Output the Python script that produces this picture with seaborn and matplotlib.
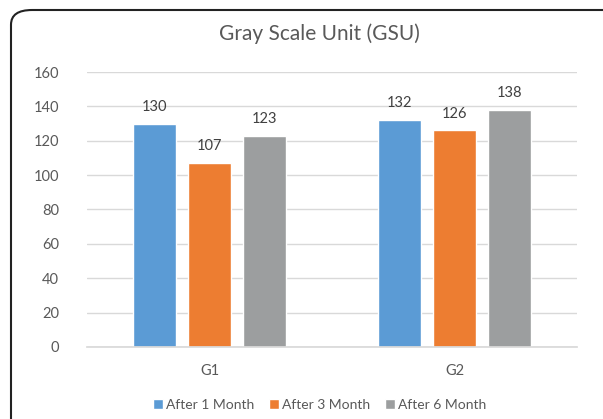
import matplotlib
matplotlib.use("Agg")
import matplotlib.pyplot as plt
from matplotlib.patches import FancyBboxPatch
import pandas as pd
import seaborn as sns

sns.set_theme(style="white")
plt.rcParams['font.family'] = ['Lato', 'DejaVu Sans']

groups = ["G1", "G2"]
series = ["After 1 Month", "After 3 Month", "After 6 Month"]
after_1 = [130, 132]
after_3 = [107, 126]
after_6 = [123, 138]
yticks = [0, 20, 40, 60, 80, 100, 120, 140, 160]
colors = ["#5B9BD5", "#ED7D31", "#9C9E9F"]

df = pd.DataFrame({
    "Group": groups * 3,
    "Period": [s for s in series for _ in groups],
    "GSU": after_1 + after_3 + after_6,
})

fig = plt.figure(figsize=(6.03, 4.19), dpi=100)
ax = fig.add_axes([0.1443, 0.172, 0.8127, 0.656])

sns.barplot(data=df, x="Group", y="GSU", hue="Period", palette=colors,
            width=0.67, gap=0.22, ax=ax, saturation=1, legend=True)

for c in ax.containers:
    ax.bar_label(c, padding=7, fontsize=10.5, color="#404040")

ax.set_ylim(0, 160)
ax.set_yticks(yticks)
ax.yaxis.grid(True, color="#d9d9d9", lw=1)
ax.set_axisbelow(True)
for s in ["top", "right", "left"]:
    ax.spines[s].set_visible(False)
ax.spines["bottom"].set_color("#d9d9d9")
ax.tick_params(axis="both", length=0, labelsize=10.5, labelcolor="#595959")
ax.tick_params(axis="y", pad=20)
ax.tick_params(axis="x", pad=12)
ax.set_xlabel("")
ax.set_ylabel("")

fig.text(0.53, 0.92, "Gray Scale Unit (GSU)", ha="center", va="center",
         fontsize=15, color="#595959")

h, l = ax.get_legend_handles_labels()
ax.legend_.remove()
fig.legend(h, l, loc="center", bbox_to_anchor=(0.53, 0.033), ncol=3,
           frameon=False, fontsize=10, handlelength=0.7, handleheight=0.7,
           handletextpad=0.2, columnspacing=1.1, labelcolor="#595959")

border = FancyBboxPatch((11 / 603, -0.2), 1.2, 1.2 - 10 / 419,
                        boxstyle="round,pad=0,rounding_size=0.035",
                        transform=fig.transFigure, fill=False,
                        edgecolor="#222222", lw=1.5, clip_on=False)
fig.patches.append(border)

fig.savefig("out.png", dpi=100)
